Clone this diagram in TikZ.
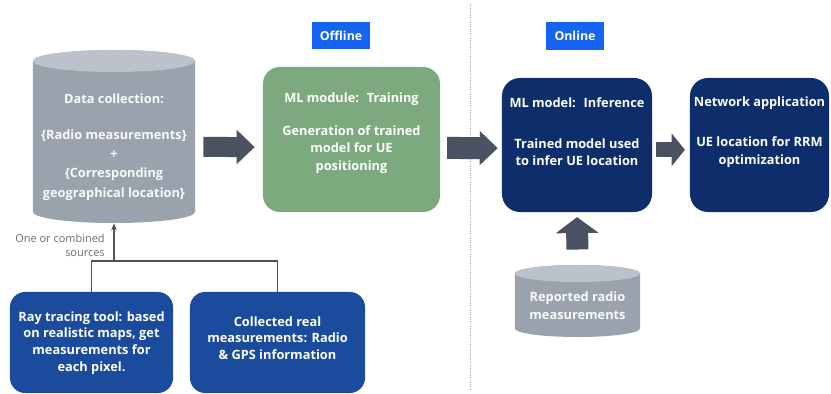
\documentclass[tikz,border=0pt]{standalone}
\usepackage{fontspec}
\setmainfont{Open Sans}
\usetikzlibrary{arrows.meta, positioning, shapes}

\definecolor{navy}{HTML}{0E2D6B}
\definecolor{royal}{HTML}{1B4B9C}
\definecolor{sage}{HTML}{7CAA7E}
\definecolor{slate}{HTML}{9AA2AE}
\definecolor{slatetop}{HTML}{BCC2CA}
\definecolor{arrowgray}{HTML}{4A5262}
\definecolor{tagblue}{HTML}{1664F2}
\definecolor{wiregray}{HTML}{505050}

\begin{document}
\begin{tikzpicture}[x=0.025cm, y=-0.025cm,
  every node/.style={inner sep=0pt},
  box/.style={rounded corners=0.42cm, fill=#1},
  outline/.style={rectangle},
  boxtext/.style={text=white, align=center, font=\fontsize{9.1}{12.6}\selectfont\bfseries},
  tighttext/.style={boxtext, font=\fontsize{9.1}{11.9}\selectfont\bfseries},
  tag/.style={fill=tagblue, text=white, minimum width=1.45cm, minimum height=0.68cm,
    font=\fontsize{8.8}{10}\selectfont\bfseries},
  blockarrow/.style={draw=arrowgray, line width=#1},
  wire/.style={draw=wiregray, line width=0.8pt}]

\useasboundingbox (0,0) rectangle (831,394);

% --- divider offline / online ---
\draw[gray!70, densely dotted, line width=0.6pt] (470,4) -- (470,390);

% --- tags ---
\node[tag] (offline) at (341,35.5) {Offline};
\node[tag] (online) at (575,36) {Online};

% --- Offline part ---
\node[outline, minimum width=4.05cm, minimum height=4.33cm] (datacol) at (114,136.5) {};
\fill[slate] ([xshift=-2.025cm]114,212) arc[start angle=180, end angle=360, x radius=2.025cm, y radius=0.275cm]
  -- ([xshift=2.025cm]114,61) arc[start angle=0, end angle=180, x radius=2.025cm, y radius=0.275cm] -- cycle;
\fill[slatetop] (114,61) ellipse[x radius=2.025cm, y radius=0.275cm];
\node[boxtext, font=\fontsize{9.1}{13.6}\selectfont\bfseries, text=white!95!slate] (datacol-t) at (114,147)
  {Data collection:\\[12pt]
  \{Radio measurements\}\\ +\\ \{Corresponding\\ geographical location\}};

\node[box=sage, minimum width=4.425cm, minimum height=3.625cm] (train) at (351.5,139.5) {};
\node[boxtext] (train-t) at (351.5,133) {ML module:~ Training\\[11pt]
  Generation of trained\\ model for UE\\ positioning};

% --- sources ---
\node[box=royal, rounded corners=0.38cm, minimum width=4.075cm, minimum height=2.525cm] (raytool) at (91.5,342.5) {};
\node[tighttext] (raytool-t) at (91.5,343) {Ray tracing tool: based\\ on realistic maps, get\\
  measurements for\\ each pixel.};
\node[box=royal, rounded corners=0.38cm, minimum width=4.375cm, minimum height=2.525cm] (collect) at (277.5,342.5) {};
\node[tighttext] (collect-t) at (277.5,338) {Collected real\\ measurements: Radio\\ \& GPS information};

\coordinate (join) at (114,261);
\draw[wire] (raytool.north) |- (join) -| (collect.north);
\draw[wire, -{Stealth[length=5pt, width=4pt]}] (join) -- (datacol.south);
\node[text=gray!85!black, align=right, anchor=east, font=\fontsize{7.8}{10}\selectfont] (srcnote) at (105,245)
  {One or combined\\ sources};

% --- Online part ---
\node[box=navy, rounded corners=0.45cm, minimum width=3.75cm, minimum height=3.35cm] (infer) at (577,145) {};
\node[boxtext] (infer-t) at (577,132) {ML model:~ Inference\\[16pt]
  Trained model used\\ to infer UE location};

\node[box=navy, rounded corners=0.45cm, minimum width=3.475cm, minimum height=3.35cm] (netapp) at (759.5,145) {};
\node[boxtext] (netapp-t) at (759.5,132) {Network application\\[16pt]
  UE location for RRM\\ optimization};

\node[outline, minimum width=3.125cm, minimum height=1.8cm] (reported) at (577.5,301) {};
\fill[slate] ([xshift=-1.5625cm]577.5,328.5) arc[start angle=180, end angle=360, x radius=1.5625cm, y radius=0.2125cm]
  -- ([xshift=1.5625cm]577.5,273.5) arc[start angle=0, end angle=180, x radius=1.5625cm, y radius=0.2125cm] -- cycle;
\fill[slatetop] (577.5,273.5) ellipse[x radius=1.5625cm, y radius=0.2125cm];
\node[boxtext, text=white!95!slate] (reported-t) at (577.5,306) {Reported radio\\ measurements};

% --- block arrows ---
\draw[blockarrow=0.5cm, -{Triangle[length=0.45cm, width=0.83cm]}, shorten <=0.2cm, shorten >=0.2cm]
  ([yshift=-0.26cm]datacol.east) -- ([yshift=-0.19cm]train.west);
\draw[blockarrow=0.55cm, -{Triangle[length=0.45cm, width=0.83cm]}, shorten <=0.17cm, shorten >=0.1cm]
  ([yshift=-0.21cm]train.east) -- ([yshift=-0.08cm]infer.west);
\draw[blockarrow=0.38cm, -{Triangle[length=0.33cm, width=0.8cm]}, shorten <=0.08cm, shorten >=0.12cm]
  ([yshift=-0.12cm]infer.east) -- ([yshift=-0.12cm]netapp.west);
\draw[blockarrow=0.55cm, -{Triangle[length=0.4cm, width=1.05cm]}, shorten <=0.38cm, shorten >=0.12cm]
  (reported.north) -- (infer.south);

\end{tikzpicture}
\end{document}
